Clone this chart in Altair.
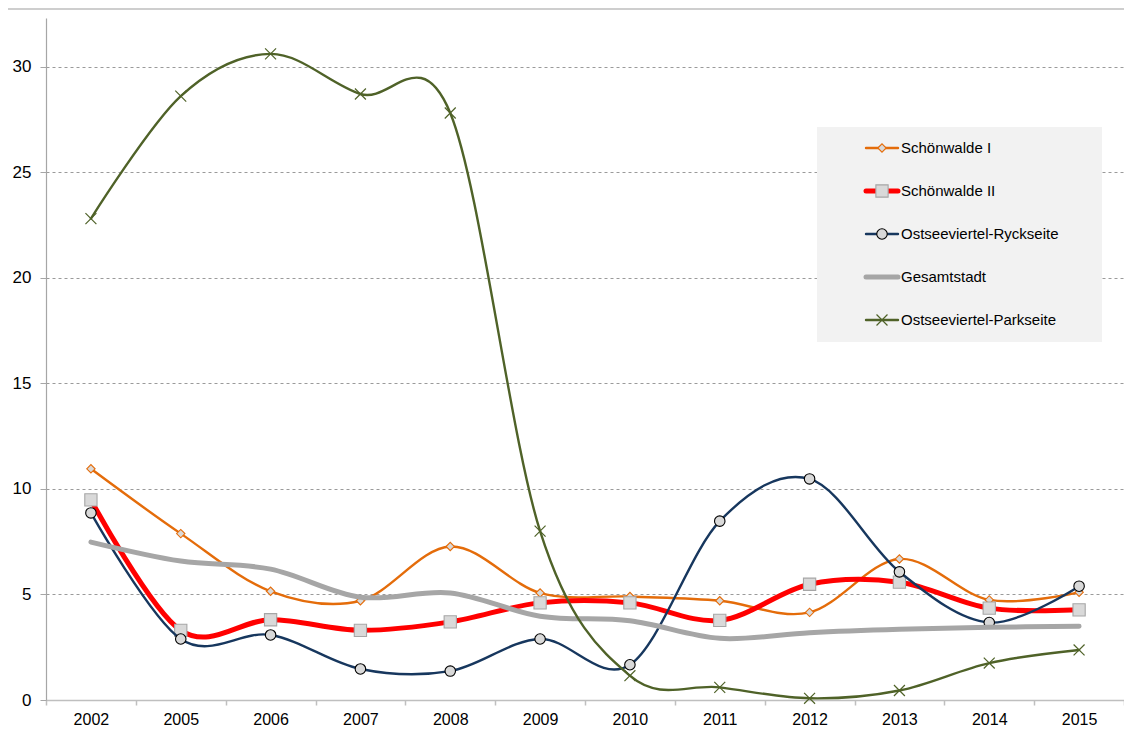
import altair as alt
import pandas as pd

years = ["2002", "2005", "2006", "2007", "2008", "2009", "2010", "2011", "2012", "2013", "2014", "2015"]
schoenwalde_1 = [10.95, 7.88, 5.15, 4.7, 7.27, 5.07, 4.9, 4.7, 4.15, 6.68, 4.74, 5.1]
schoenwalde_2 = [9.48, 3.3, 3.8, 3.3, 3.7, 4.6, 4.6, 3.77, 5.48, 5.58, 4.35, 4.27]
ryckseite = [8.86, 2.89, 3.08, 1.47, 1.37, 2.89, 1.67, 8.47, 10.47, 6.07, 3.67, 5.39]
gesamtstadt = [7.48, 6.58, 6.2, 4.87, 5.07, 3.97, 3.75, 2.92, 3.19, 3.35, 3.44, 3.49]
parkseite = [22.8, 28.6, 30.6, 28.7, 27.8, 8.0, 1.15, 0.6, 0.08, 0.45, 1.75, 2.37]

names = ["Schönwalde I", "Schönwalde II", "Ostseeviertel-Ryckseite", "Gesamtstadt", "Ostseeviertel-Parkseite"]
values = [schoenwalde_1, schoenwalde_2, ryckseite, gesamtstadt, parkseite]

line_colors = ["#E46C0A", "#FF0000", "#17375E", "#A6A6A6", "#4F6228"]
line_widths = [2.4, 5, 2.4, 5, 2.4]
marker_shapes = ["diamond", "square", "circle", None, "M-1,-1L1,1M-1,1L1,-1"]
marker_fills = ["#D9D9D9", "#D9D9D9", "#D9D9D9", None, None]
marker_strokes = ["#E46C0A", "#A6A6A6", "#000000", None, "#4F6228"]
marker_sizes = [70, 150, 110, 0, 120]

rows = []
for name, vals in zip(names, values):
    for yr, v in zip(years, vals):
        rows.append({"Jahr": yr, "Wert": v, "Reihe": name})
df = pd.DataFrame(rows)

legend_df = pd.DataFrame({"Reihe": names, "Pos": list(range(len(names)))})

FONT = "Liberation Sans"

x_enc = alt.X(
    "Jahr:O",
    bandPosition=0.5,
    scale=alt.Scale(type="band", domain=years, paddingInner=0, paddingOuter=0),
    axis=alt.Axis(
        title=None, labelAngle=0, labelFont=FONT, labelFontSize=16, labelColor="#000000",
        domainColor="#BFBFBF", domainWidth=1.5, tickColor="#BFBFBF", tickWidth=1.5,
        tickSize=5, tickBand="extent", labelPadding=6, grid=False,
    ),
)
y_enc = alt.Y(
    "Wert:Q",
    scale=alt.Scale(domain=[0, 32.3], nice=False, zero=True),
    axis=alt.Axis(
        title=None, values=[0, 5, 10, 15, 20, 25, 30], labelFont=FONT, labelFontSize=17,
        labelColor="#000000", domainColor="#A6A6A6", domainWidth=1.2, tickColor="#A6A6A6",
        tickSize=6, tickWidth=1, labelPadding=9, grid=True, gridColor="#9A9A9A",
        gridDash=[3, 3], gridWidth=1,
    ),
)

base = alt.Chart(df)
main_layers = []
for i, name in enumerate(names):
    sub = base.transform_filter(alt.datum.Reihe == name)
    main_layers.append(
        sub.mark_line(
            interpolate="cardinal", tension=0, color=line_colors[i], strokeWidth=line_widths[i],
            strokeCap="round", strokeJoin="round",
        ).encode(x=x_enc, y=y_enc)
    )
    if marker_shapes[i] is not None:
        if marker_fills[i] is not None:
            pm = sub.mark_point(
                shape=marker_shapes[i], filled=True, fill=marker_fills[i], stroke=marker_strokes[i],
                strokeWidth=1.1, size=marker_sizes[i], opacity=1,
            )
        else:
            pm = sub.mark_point(
                shape=marker_shapes[i], filled=False, stroke=marker_strokes[i],
                strokeWidth=1.2, size=marker_sizes[i], opacity=1,
            )
        main_layers.append(pm.encode(x=x_enc, y=y_enc))

main = alt.layer(*main_layers)

# legend
lbase = alt.Chart(legend_df)
ly = alt.Y("Pos:O", scale=alt.Scale(type="point", domain=list(range(len(names))), range=[130, 302], padding=0), axis=None)
first = lbase.transform_filter(alt.datum.Pos == 0)
legend_layers = [
    first.mark_rect(fillOpacity=0, stroke="#BFBFBF", strokeWidth=1.5).encode(
        x=alt.value(-39.5), x2=alt.value(1100), y=alt.value(-9), y2=alt.value(760)
    ),
    first.mark_rect(fill="#F2F2F2").encode(
        x=alt.value(771), x2=alt.value(1056), y=alt.value(109), y2=alt.value(324)
    ),
]
for i, name in enumerate(names):
    s = lbase.transform_filter(alt.datum.Reihe == name)
    legend_layers.append(
        s.mark_rule(color=line_colors[i], strokeWidth=line_widths[i], strokeCap="round").encode(
            x=alt.value(820), x2=alt.value(852), y=ly
        )
    )
    if marker_shapes[i] is not None:
        if marker_fills[i] is not None:
            pm = s.mark_point(
                shape=marker_shapes[i], filled=True, fill=marker_fills[i], stroke=marker_strokes[i],
                strokeWidth=1.1, size=marker_sizes[i], opacity=1,
            )
        else:
            pm = s.mark_point(
                shape=marker_shapes[i], filled=False, stroke=marker_strokes[i],
                strokeWidth=1.2, size=marker_sizes[i], opacity=1,
            )
        legend_layers.append(pm.encode(x=alt.value(836), y=ly))
    legend_layers.append(
        s.mark_text(align="left", baseline="middle", font=FONT, fontSize=15, color="#000000").encode(
            x=alt.value(855), y=ly, text="Reihe:N"
        )
    )

legend = alt.layer(*legend_layers)

chart = (
    alt.layer(legend, main)
    .resolve_scale(y="independent")
    .properties(
        width=1078, height=682,
        autosize=alt.AutoSizeParams(type="none"),
        padding={"left": 38, "top": 10, "right": 0, "bottom": 28},
        background="#FFFFFF",
    )
    .configure_view(stroke=None)
)

chart.save("out.html", embed_options={"renderer": "svg", "actions": False})
